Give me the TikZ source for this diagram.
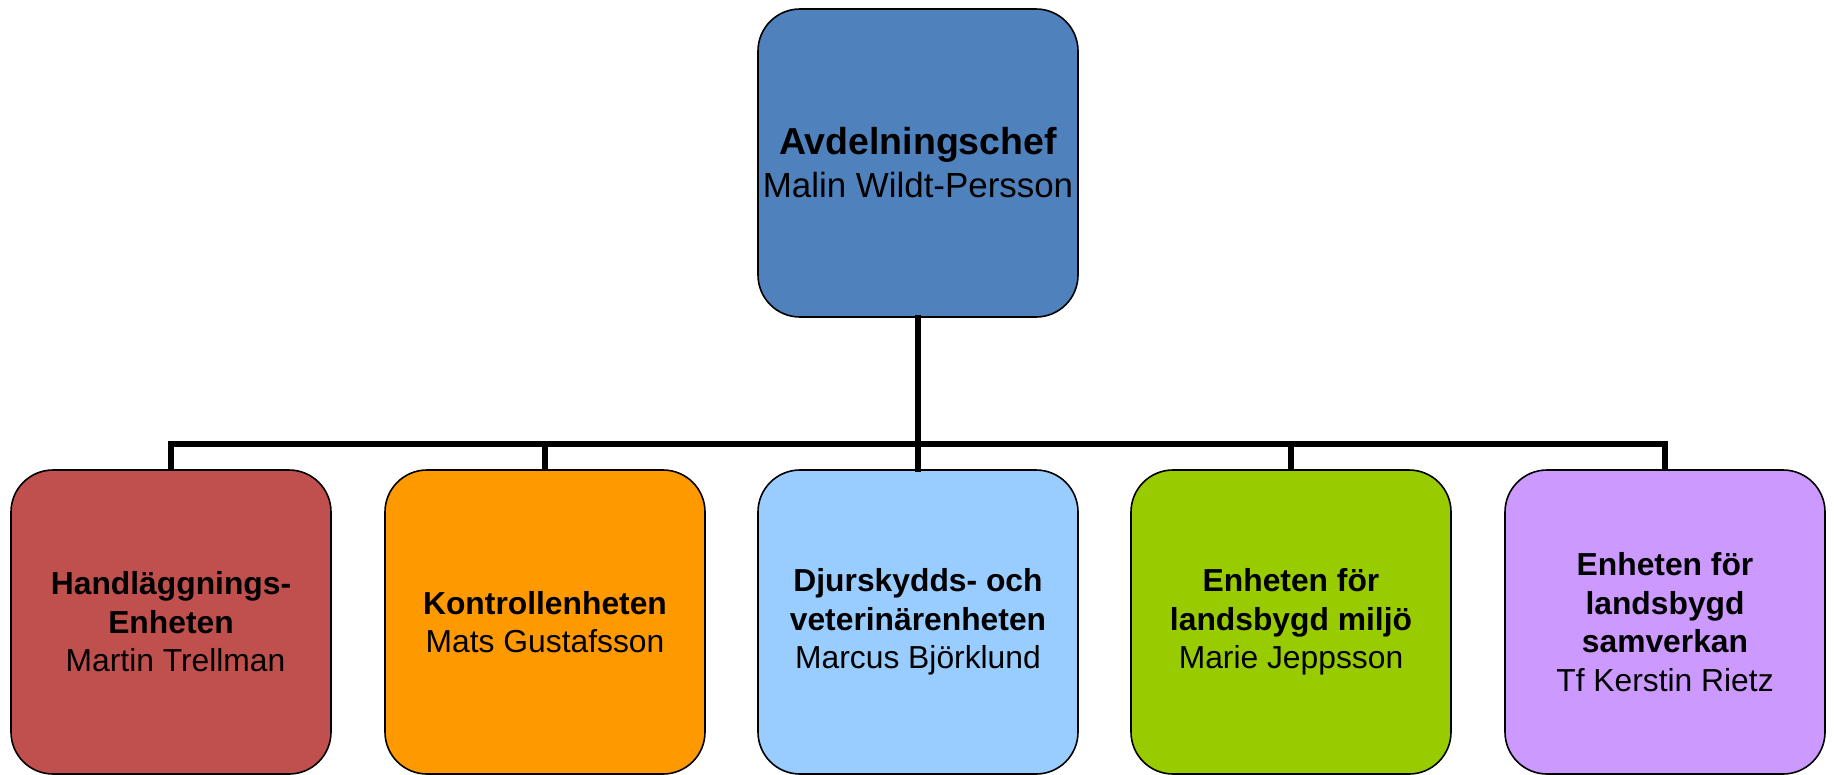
\documentclass[tikz,border=0pt]{standalone}
\usepackage{fontspec}
\setmainfont{Liberation Sans}
\definecolor{cTop}{HTML}{4F81BD}
\definecolor{cRed}{HTML}{C0504D}
\definecolor{cOrange}{HTML}{FF9900}
\definecolor{cLight}{HTML}{99CCFF}
\definecolor{cGreen}{HTML}{99CC00}
\definecolor{cPurple}{HTML}{CC99FF}
\tikzset{
  box/.style={draw=black, line width=1.6pt, rounded corners=42pt, rectangle,
    minimum width=320pt, align=center, inner sep=0pt},
  topbox/.style={box, minimum height=308pt, font=\fontsize{34.9}{43}\selectfont},
  unitbox/.style={box, minimum height=304pt, font=\fontsize{31.8}{38.5}\selectfont},
  conn/.style={draw=black, line width=5.5pt, line join=miter, line cap=rect}
}
\begin{document}
\begin{tikzpicture}[x=1pt,y=-1pt]
\useasboundingbox (0,0) rectangle (1835,774);
\node[topbox, fill=cTop] (top) at (918,163) {{\fontsize{37.5}{43}\selectfont\bfseries Avdelningschef}\\Malin Wildt-Persson};
\node[unitbox, fill=cRed] (b1) at (171,622) {\textbf{Handläggnings-}\\\textbf{Enheten}\\\hspace*{9pt}Martin Trellman};
\node[unitbox, fill=cOrange] (b2) at (545,622) {\textbf{Kontrollenheten}\\Mats Gustafsson};
\node[unitbox, fill=cLight] (b3) at (918,622) {\textbf{Djurskydds- och}\\\textbf{veterinärenheten}\\Marcus Björklund};
\node[unitbox, fill=cGreen] (b4) at (1291,622) {\textbf{Enheten för}\\\textbf{landsbygd miljö}\\Marie Jeppsson};
\node[unitbox, fill=cPurple] (b5) at (1665,622) {\textbf{Enheten för}\\\textbf{landsbygd}\\\textbf{samverkan}\\Tf Kerstin Rietz};
\coordinate (bus) at (918,444);
\draw[conn] (top.south) -- (b3.north);
\draw[conn, line cap=butt] (b1.north) |- (bus) -| (b5.north);
\draw[conn, line cap=butt] (b2.north) -- (b2.north |- bus);
\draw[conn, line cap=butt] (b4.north) -- (b4.north |- bus);
\end{tikzpicture}
\end{document}
